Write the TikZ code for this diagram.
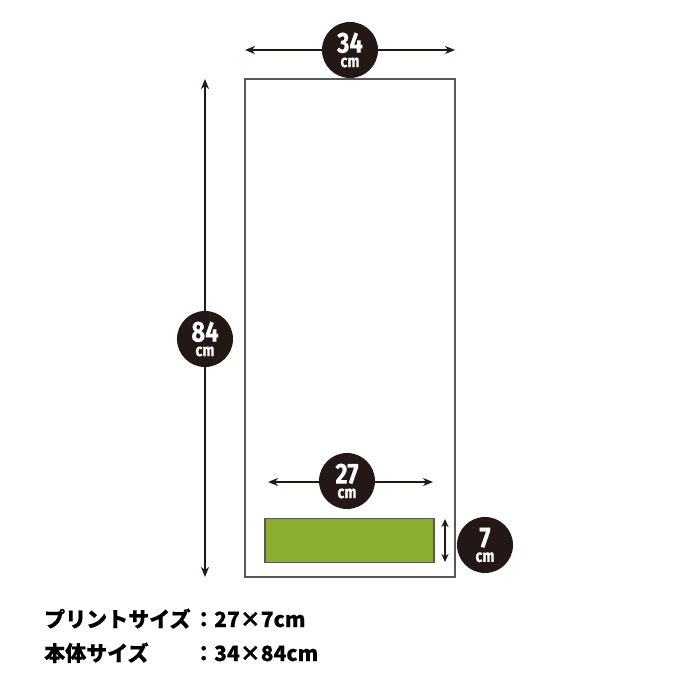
\documentclass[tikz,border=0pt]{standalone}
\usepackage{fontspec}
\usetikzlibrary{arrows.meta}
\newfontfamily\numfont[FakeStretch=0.82,FakeBold=0.4]{Fira Sans}
\newfontfamily\jp[FakeBold=0.3]{Noto Sans CJK JP}
\definecolor{ink}{HTML}{231815}
\definecolor{frame}{HTML}{595757}
\definecolor{leaf}{HTML}{8AAE2E}
\newcommand\bdgtxt[1]{\vbox{\baselineskip=14.5pt\lineskiplimit=-100pt\lineskip=0pt\halign{\hfil##\hfil\cr{\numfont\bfseries\fontsize{29}{29}\selectfont #1}\cr{\numfont\bfseries\fontsize{17.5}{17.5}\selectfont cm}\cr}}}
\tikzset{
  dimarrow/.style={draw=ink, line width=1.5pt, {Stealth[length=10pt,width=8pt,inset=3pt]}-{Stealth[length=10pt,width=8pt,inset=3pt]}},
  smallarrow/.style={draw=ink, line width=1.3pt, {Stealth[length=8pt,width=7pt,inset=2.5pt]}-{Stealth[length=8pt,width=7pt,inset=2.5pt]}},
  badge/.style={circle, fill=ink, text=white, minimum size=56pt, inner sep=0pt},
  jptext/.style={text=black, inner sep=0pt, anchor=base west, font=\jp\bfseries\fontsize{21}{21}\selectfont},
}
\begin{document}
\begin{tikzpicture}[x=1pt,y=-1pt]
\useasboundingbox (0,0) rectangle (700,700);
% main body
\node[draw=frame, line width=1.6pt, minimum width=210pt, minimum height=498pt, inner sep=0pt] (body) at (350,328) {};
% print area
\node[draw=frame, fill=leaf, line width=1.2pt, minimum width=169pt, minimum height=44pt, inner sep=0pt] (print) at (349.5,540.5) {};
% top dimension
\coordinate (tl) at (245,50);
\coordinate (tr) at (455,50);
\draw[dimarrow] (tl) -- (tr);
\node[badge] (b34) at (350,50) {\bdgtxt{34}};
% left dimension
\coordinate (lt) at (205,79);
\coordinate (lb) at (205,577);
\draw[dimarrow] (lt) -- (lb);
\node[badge] (b84) at (205,339) {\bdgtxt{84}};
% print width
\coordinate (pl) at (268,482);
\coordinate (pr) at (433,482);
\draw[dimarrow] (pl) -- (pr);
\node[badge] (b27) at (347,481) {\bdgtxt{27}};
% print height
\coordinate (ht) at (445,519);
\coordinate (hb) at (445,562);
\draw[smallarrow] (ht) -- (hb);
\node[badge] (b7) at (485,545) {\bdgtxt{7}};
% captions
\node[jptext] (cap1) at (44,627) {プリントサイズ};
\node[jptext] (val1) at (193,627) {：27×7cm};
\node[jptext] (cap2) at (44,661) {本体サイズ};
\node[jptext] (val2) at (193,661) {：34×84cm};
\end{tikzpicture}
\end{document}
